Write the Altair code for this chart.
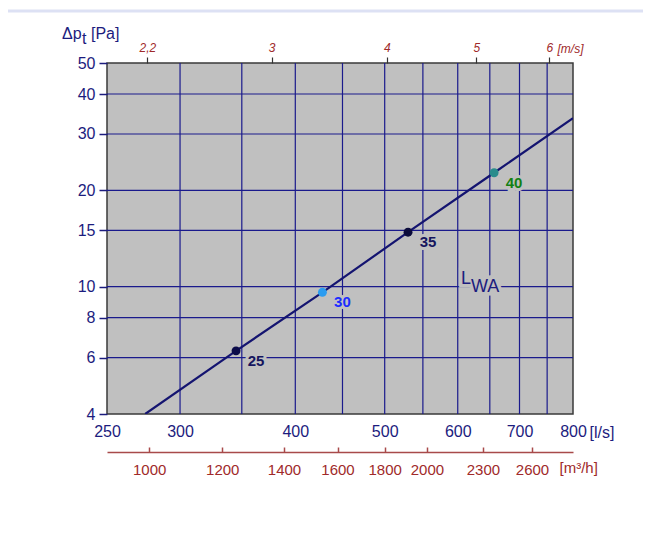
import altair as alt
import pandas as pd

# ---- data ----
flow_ls = [275, 345, 428, 530, 657, 800]          # system line, l/s
dp_pa = [4.0, 6.3, 9.6, 14.8, 22.7, 33.6]         # pressure, Pa

op_flow = [345, 428, 530, 657]
op_dp = [6.3, 9.6, 14.8, 22.7]
op_lwa = ["25", "30", "35", "40"]
op_dot_color = ["#0c0c4a", "#2b9cf0", "#0c0c3c", "#2a8c8c"]
op_text_color = ["#15155e", "#1a2cff", "#15155e", "#138013"]

x_ticks = [250, 300, 400, 500, 600, 700, 800]
x_grid = [300, 350, 400, 450, 500, 550, 600, 650, 700, 750]
y_ticks = [4, 6, 8, 10, 15, 20, 30, 40, 50]
y_grid = [6, 8, 10, 15, 20, 30, 40]
v_ticks = [2.2, 3, 4, 5, 6]                          # m/s
m3h_ticks = [1000, 1200, 1400, 1600, 1800, 2000, 2300, 2600]
duct_area_m2 = 0.1257

flow_domain = [250, 800]
dp_domain = [4, 50]

lwa_main = ["L"]
lwa_sub = ["WA"]
lwa_main_flow = [605]
lwa_sub_flow = [620]
lwa_dp = [10]

FONT = "Liberation Sans"
NAVY = "#1c1c7e"
GRID = "#1a1a8c"
RED = "#a02a2a"
RED2 = "#a84a4a"
BG = "#c0c0c0"

# ---- shared encodings ----
x_axis = alt.Axis(values=x_ticks, grid=False, ticks=False, domain=False,
                  labelFontSize=16, labelColor=NAVY, labelFont=FONT, labelPadding=9,
                  labelOverlap=False, labelFlush=False, format="d",
                  title="[l/s]", titleX=482, titleY=18, titleAlign="left",
                  titleBaseline="middle", titleFontSize=16, titleFontWeight="normal",
                  titleColor=NAVY, titleFont=FONT)
y_axis = alt.Axis(values=y_ticks, grid=False, domain=False, tickSize=8,
                  tickColor=NAVY, tickWidth=1.5, labelFontSize=16, labelColor=NAVY,
                  labelFont=FONT, labelPadding=4, labelOverlap=False,
                  labelFlush=False, format="d", title=None)

def X():
    return alt.X("flow:Q", scale=alt.Scale(type="log", domain=flow_domain, nice=False), axis=x_axis)

def Y():
    return alt.Y("dp:Q", scale=alt.Scale(type="log", domain=dp_domain, nice=False), axis=y_axis)

grid_x = alt.Chart(pd.DataFrame({"flow": x_grid})).mark_rule(
    color=GRID, strokeWidth=1.2).encode(x=X())
grid_y = alt.Chart(pd.DataFrame({"dp": y_grid})).mark_rule(
    color=GRID, strokeWidth=1.2).encode(y=Y())

line = alt.Chart(pd.DataFrame({"flow": flow_ls, "dp": dp_pa})).mark_line(
    color="#141470", strokeWidth=2.2, clip=True).encode(x=X(), y=Y())

ops = pd.DataFrame({"flow": op_flow, "dp": op_dp, "lwa": op_lwa,
                    "dotc": op_dot_color, "txtc": op_text_color})
dots = alt.Chart(ops).mark_circle(size=80, opacity=1).encode(
    x=X(), y=Y(), color=alt.Color("dotc:N", scale=None))
halo = alt.Chart(ops).mark_text(dx=20, dy=10, fontSize=15, fontWeight="bold", font=FONT,
                                fill=BG, stroke=BG, strokeWidth=6).encode(
    x=X(), y=Y(), text="lwa:N")
labels = alt.Chart(ops).mark_text(dx=20, dy=10, fontSize=15, fontWeight="bold", font=FONT).encode(
    x=X(), y=Y(), text="lwa:N", color=alt.Color("txtc:N", scale=None))

lwa_a = pd.DataFrame({"flow": lwa_main_flow, "dp": lwa_dp, "t": lwa_main})
lwa_b = pd.DataFrame({"flow": lwa_sub_flow, "dp": lwa_dp, "t": lwa_sub})
lwa_layers = []
for df, dy in ((lwa_a, 1), (lwa_b, 9)):
    lwa_layers.append(alt.Chart(df).mark_text(
        align="left", baseline="bottom", dy=dy, fontSize=18, font=FONT,
        fill=BG, stroke=BG, strokeWidth=7).encode(x=X(), y=Y(), text="t:N"))
for df, dy in ((lwa_a, 1), (lwa_b, 9)):
    lwa_layers.append(alt.Chart(df).mark_text(
        align="left", baseline="bottom", dy=dy, fontSize=18, font=FONT,
        color=NAVY).encode(x=X(), y=Y(), text="t:N"))

one = pd.DataFrame({"a": [0]})
top_band = alt.Chart(one).mark_rule(color="#dde1f4", strokeWidth=3).encode(
    x=alt.value(-99), x2=alt.value(560), y=alt.value(-52))
t1 = alt.Chart(one).mark_text(text="\u0394p", align="left", baseline="alphabetic",
                              fontSize=16, font=FONT, color=NAVY).encode(
    x=alt.value(-45), y=alt.value(-24))
t2 = alt.Chart(one).mark_text(text="t", align="left", baseline="alphabetic",
                              fontSize=16, font=FONT, color=NAVY).encode(
    x=alt.value(-25), y=alt.value(-19))
t3 = alt.Chart(one).mark_text(text="[Pa]", align="left", baseline="alphabetic",
                              fontSize=16, font=FONT, color=NAVY).encode(
    x=alt.value(-16), y=alt.value(-24))

main = alt.layer(grid_x, grid_y, line, dots, halo, labels, *lwa_layers,
                 top_band, t1, t2, t3)

# ---- secondary axes ----
v_domain = [flow_domain[0] / (duct_area_m2 * 1000), flow_domain[1] / (duct_area_m2 * 1000)]
vel = alt.Chart(pd.DataFrame({"v": v_ticks})).mark_point(opacity=0).encode(
    x=alt.X("v:Q", scale=alt.Scale(type="log", domain=v_domain, nice=False),
            axis=alt.Axis(orient="top", values=v_ticks, grid=False, domain=False,
                          tickSize=6, tickColor="#333333", tickWidth=1.2,
                          labelFontSize=12, labelFontStyle="italic", labelColor=RED,
                          labelFont=FONT, labelPadding=3, labelOverlap=False,
                          labelFlush=False,
                          labelExpr="replace(toString(datum.value), '.', ',')",
                          title="[m/s]", titleX=450, titleY=-15, titleAlign="left",
                          titleBaseline="middle", titleFontSize=12,
                          titleFontStyle="italic", titleFontWeight="normal",
                          titleColor=RED, titleFont=FONT)))

q_domain = [flow_domain[0] * 3.6, flow_domain[1] * 3.6]
m3_lab = alt.Chart(pd.DataFrame({"q": m3h_ticks})).mark_point(opacity=0).encode(
    x=alt.X("q:Q", scale=alt.Scale(type="log", domain=q_domain, nice=False),
            axis=alt.Axis(orient="bottom", offset=38, values=m3h_ticks, grid=False,
                          domain=True, domainColor=RED2, domainWidth=1.6, ticks=False,
                          labelFontSize=15, labelColor=RED, labelFont=FONT,
                          labelPadding=10, labelOverlap=False, labelFlush=False,
                          format="d", title="[m\u00b3/h]", titleX=452, titleY=15,
                          titleAlign="left", titleBaseline="middle", titleFontSize=15,
                          titleFontWeight="normal", titleColor=RED, titleFont=FONT)))
m3_tick = alt.Chart(pd.DataFrame({"q2": m3h_ticks})).mark_point(opacity=0).encode(
    x=alt.X("q2:Q", scale=alt.Scale(type="log", domain=q_domain, nice=False),
            axis=alt.Axis(orient="bottom", offset=33, values=m3h_ticks, grid=False,
                          domain=False, ticks=True, tickSize=5, tickColor=RED2,
                          tickWidth=1.5, labels=False, title=None)))

chart = alt.layer(main, vel, m3_lab, m3_tick).resolve_scale(x="independent").properties(
    width=466, height=351,
    autosize=alt.AutoSizeParams(type="none"),
    padding={"left": 99, "top": 55, "right": 70, "bottom": 90},
    background="white",
).configure_view(fill=BG, stroke="#3a3a3a", strokeWidth=1.5)

chart.save("out.html", embed_options={"renderer": "svg", "actions": False})
